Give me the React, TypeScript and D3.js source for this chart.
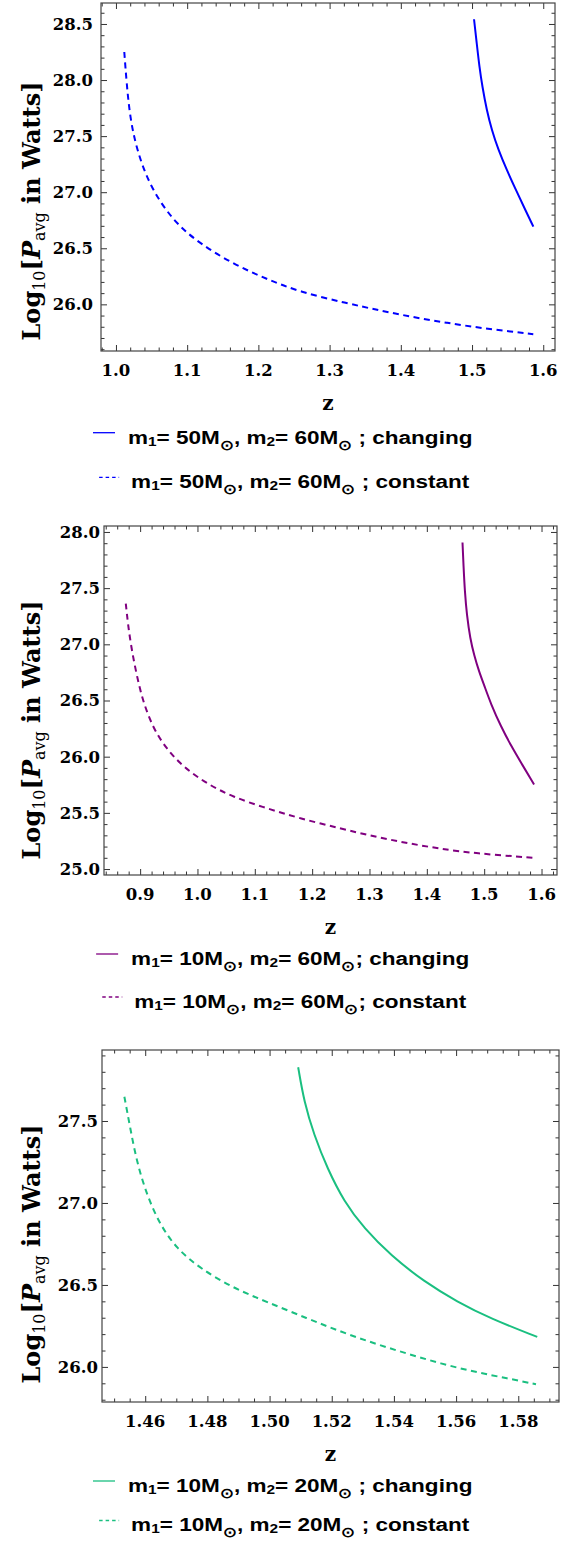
import React, { useEffect, useRef } from 'react';
import * as d3 from 'd3';

// top panel: m1 = 50, m2 = 60
const zChanging50 = [1.5028, 1.5066, 1.5103, 1.5145, 1.5206, 1.5277, 1.537, 1.5487, 1.5627, 1.5744, 1.5861];
const pChanging50 = [28.542, 28.328, 28.119, 27.941, 27.733, 27.555, 27.377, 27.199, 27.005, 26.848, 26.693];
const zConstant50 = [1.0117, 1.015, 1.0197, 1.029, 1.0478, 1.0805, 1.118, 1.1647, 1.2116, 1.2584, 1.324, 1.3708, 1.4176, 1.4645, 1.511, 1.586];
const pConstant50 = [28.25, 27.97, 27.67, 27.38, 27.05, 26.74, 26.54, 26.36, 26.225, 26.11, 26.01, 25.945, 25.885, 25.835, 25.79, 25.734];

// middle panel: m1 = 10, m2 = 60
const zChanging1060 = [1.4622, 1.4639, 1.4663, 1.4698, 1.4756, 1.4825, 1.4913, 1.5, 1.5117, 1.5291, 1.5466, 1.5669, 1.587];
const pChanging1060 = [27.906, 27.704, 27.466, 27.259, 27.051, 26.903, 26.754, 26.636, 26.47, 26.27, 26.1, 25.924, 25.753];
const zConstant1060 = [0.875, 0.879, 0.885, 0.894, 0.905, 0.923, 0.946, 0.975, 1.016, 1.062, 1.121, 1.179, 1.25, 1.308, 1.366, 1.424, 1.4825, 1.587];
const pConstant1060 = [27.363, 27.17, 26.96, 26.725, 26.49, 26.25, 26.07, 25.91, 25.76, 25.64, 25.54, 25.45, 25.36, 25.29, 25.23, 25.18, 25.14, 25.1];

// bottom panel: m1 = 10, m2 = 20
const zChanging1020 = [1.5092, 1.5111, 1.5143, 1.5186, 1.524, 1.5304, 1.539, 1.5497, 1.5604, 1.5711, 1.5861];
const pChanging1020 = [27.828, 27.618, 27.415, 27.21, 27.007, 26.845, 26.68, 26.52, 26.397, 26.295, 26.183];
const zConstant1020 = [1.4533, 1.4552, 1.4573, 1.4605, 1.4648, 1.4702, 1.4777, 1.4884, 1.4991, 1.5122, 1.523, 1.5337, 1.5444, 1.5551, 1.5659, 1.5766, 1.5857];
const pConstant1020 = [27.648, 27.455, 27.25, 27.05, 26.865, 26.72, 26.6, 26.48, 26.397, 26.295, 26.214, 26.143, 26.08, 26.02, 25.97, 25.93, 25.894];

const xTicksTop = [1.0, 1.1, 1.2, 1.3, 1.4, 1.5, 1.6];
const yTicksTop = [26.0, 26.5, 27.0, 27.5, 28.0, 28.5];
const xTicksMid = [0.9, 1.0, 1.1, 1.2, 1.3, 1.4, 1.5, 1.6];
const yTicksMid = [25.0, 25.5, 26.0, 26.5, 27.0, 27.5, 28.0];
const xTicksBot = [1.46, 1.48, 1.5, 1.52, 1.54, 1.56, 1.58];
const yTicksBot = [26.0, 26.5, 27.0, 27.5];

const massesTop = [50, 60];
const massesMid = [10, 60];
const massesBot = [10, 20];

const zip = (zs: number[], ps: number[]) => zs.map((z, i) => [z, ps[i]] as [number, number]);

const panels = [
  {
    box: { left: 101, right: 555, top: 3, bottom: 351 },
    xDomain: [0.979, 1.6165], yDomain: [25.584, 28.687],
    xTicks: xTicksTop, yTicks: yTicksTop, xMinor: 0.02, yMinor: 0.1, xFmt: '.1f',
    yLabelX: 93, titleY: 211, color: '#0000ff',
    changing: zip(zChanging50, pChanging50), constant: zip(zConstant50, pConstant50),
    masses: massesTop, sep: ' ;', legendY: [432.7, 477.3]
  },
  {
    box: { left: 104, right: 557, top: 526, bottom: 875 },
    xDomain: [0.837, 1.627], yDomain: [24.947, 28.053],
    xTicks: xTicksMid, yTicks: yTicksMid, xMinor: 0.02, yMinor: 0.1, xFmt: '.1f',
    yLabelX: 100, titleY: 730, color: '#800080',
    changing: zip(zChanging1060, pChanging1060), constant: zip(zConstant1060, pConstant1060),
    masses: massesMid, sep: ';', legendY: [954, 997]
  },
  {
    box: { left: 102, right: 559, top: 1050, bottom: 1402 },
    xDomain: [1.4461, 1.5931], yDomain: [25.786, 27.933],
    xTicks: xTicksBot, yTicks: yTicksBot, xMinor: 0.005, yMinor: 0.1, xFmt: '.2f',
    yLabelX: 98, titleY: 1254, color: '#1abf80',
    changing: zip(zChanging1020, pChanging1020), constant: zip(zConstant1020, pConstant1020),
    masses: massesBot, sep: ' ;', legendY: [1481, 1520.5]
  }
];

const serif = '"DejaVu Serif", serif';
const sans = '"Liberation Sans", Arial, sans-serif';
let legendStretch = 0;

const minorValues = (domain: number[], step: number, majors: number[]) =>
  d3.range(Math.ceil(domain[0] / step - 1e-9), Math.floor(domain[1] / step + 1e-9) + 1)
    .map(i => i * step)
    .filter(v => !majors.some(m => Math.abs(m - v) < step / 10));

const drawPanel = (svg, p) => {
  const { left, right, top, bottom } = p.box;
  const x = d3.scaleLinear().domain(p.xDomain).range([left, right]);
  const y = d3.scaleLinear().domain(p.yDomain).range([bottom, top]);
  const g = svg.append('g');

  const xMinor = minorValues(p.xDomain, p.xMinor, p.xTicks);
  const yMinor = minorValues(p.yDomain, p.yMinor, p.yTicks);

  const tickAxis = (axis, translate, values, size) => {
    g.append('g')
      .attr('transform', translate)
      .call(axis.tickValues(values).tickSizeInner(-size).tickSizeOuter(0).tickFormat(() => ''))
      .call(s => s.select('.domain').remove())
      .selectAll('line').attr('stroke', '#333').attr('stroke-width', 1);
  };

  const sides = [
    [() => d3.axisBottom(x), `translate(0,${bottom})`, 'x'],
    [() => d3.axisTop(x), `translate(0,${top})`, 'x'],
    [() => d3.axisLeft(y), `translate(${left},0)`, 'y'],
    [() => d3.axisRight(y), `translate(${right},0)`, 'y']
  ];
  sides.forEach(([make, tr, dim]: any) => {
    tickAxis(make(), tr, dim === 'x' ? p.xTicks : p.yTicks, 6);
    tickAxis(make(), tr, dim === 'x' ? xMinor : yMinor, 3.5);
  });

  g.append('rect')
    .attr('x', left).attr('y', top)
    .attr('width', right - left).attr('height', bottom - top)
    .attr('fill', 'none').attr('stroke', '#444').attr('stroke-width', 1.2);

  const fmt = d3.format(p.xFmt);
  g.selectAll('.xlab').data(p.xTicks).enter().append('text')
    .attr('class', 'xlab')
    .attr('x', d => x(d)).attr('y', bottom + 24.5)
    .attr('text-anchor', 'middle')
    .attr('font-family', serif).attr('font-weight', 'bold').attr('font-size', 16.5)
    .text(d => fmt(d));

  g.selectAll('.ylab').data(p.yTicks).enter().append('text')
    .attr('class', 'ylab')
    .attr('x', p.yLabelX).attr('y', d => y(d)).attr('dy', '0.36em')
    .attr('text-anchor', 'end')
    .attr('font-family', serif).attr('font-weight', 'bold').attr('font-size', 16.5)
    .text(d => d3.format('.1f')(d));

  g.append('text')
    .attr('x', (left + right) / 2).attr('y', bottom + 59)
    .attr('text-anchor', 'middle')
    .attr('font-family', serif).attr('font-weight', 'bold').attr('font-size', 20)
    .text('z');

  const title = g.append('text')
    .attr('transform', `translate(39.5,${p.titleY}) rotate(-90)`)
    .attr('text-anchor', 'middle')
    .attr('font-family', serif).attr('font-weight', 'bold').attr('font-size', 24);
  title.append('tspan').text('Log');
  title.append('tspan').attr('font-size', 16).attr('font-weight', 'normal').attr('dy', 5).text('10');
  title.append('tspan').attr('dy', -5).text('[');
  title.append('tspan').attr('font-style', 'italic').text('P');
  title.append('tspan').attr('font-size', 16).attr('font-weight', 'normal').attr('dy', 5).text('avg');
  title.append('tspan').attr('dy', -5).text(' in Watts]');

  const line = d3.line().x(d => x(d[0])).y(d => y(d[1])).curve(d3.curveBasis);
  g.append('path').datum(p.changing)
    .attr('d', line).attr('fill', 'none')
    .attr('stroke', p.color).attr('stroke-width', 2);
  g.append('path').datum(p.constant)
    .attr('d', line).attr('fill', 'none')
    .attr('stroke', p.color).attr('stroke-width', 2)
    .attr('stroke-dasharray', '6,4.5');

  // legend
  ['changing', 'constant'].forEach((kind, i) => {
    const item = g.append('g');
    const dashed = kind === 'constant';
    const ly = p.legendY[i];
    item.append('line')
      .attr('x1', dashed ? 3 : 0).attr('x2', dashed ? 23 : 22)
      .attr('y1', ly).attr('y2', ly)
      .attr('stroke', p.color).attr('stroke-width', 1.3)
      .attr('stroke-dasharray', dashed ? '3.5,3' : null);
    const t = item.append('text')
      .attr('x', 0).attr('y', ly + 11)
      .attr('font-family', sans).attr('font-weight', 'bold').attr('font-size', 19);
    t.append('tspan').text('m');
    t.append('tspan').attr('font-size', 13).attr('dy', 2).text('1');
    t.append('tspan').attr('dy', -2).text(`= ${p.masses[0]}M`);
    t.append('tspan').attr('font-size', 13.5).attr('dy', 6).text('\u2299');
    t.append('tspan').attr('dy', -6).text(', m');
    t.append('tspan').attr('font-size', 13).attr('dy', 2).text('2');
    t.append('tspan').attr('dy', -2).text(`= ${p.masses[1]}M`);
    t.append('tspan').attr('font-size', 13.5).attr('dy', 6).text('\u2299');
    t.append('tspan').attr('dy', -6).text(`${p.sep} ${kind}`);
    const tw = (t.node() as SVGTextElement).getComputedTextLength();
    if (!legendStretch) legendStretch = 345 / tw;
    t.attr('transform', `translate(35,0) scale(${legendStretch},1)`);
    const w = 35 + tw * legendStretch;
    item.attr('transform', `translate(${283 - w / 2},0)`);
  });
};

const App = () => {
  const ref = useRef(null);

  useEffect(() => {
    const svg = d3.select(ref.current);
    svg.selectAll('*').remove();
    legendStretch = 0;
    panels.forEach(p => drawPanel(svg, p));
  }, []);

  return (
    <div style={{ position: 'absolute', left: 0, top: 0 }}>
      <svg ref={ref} width={574} height={1541} style={{ display: 'block', background: '#fff' }} />
    </div>
  );
};

export default App;
